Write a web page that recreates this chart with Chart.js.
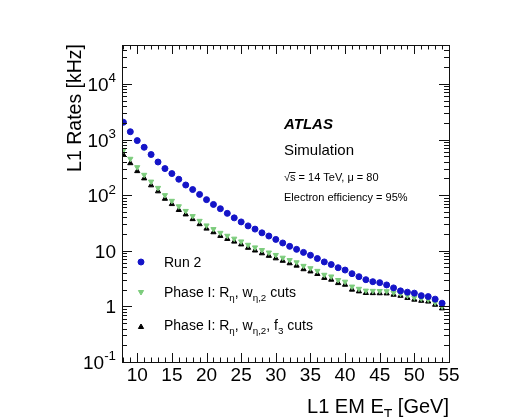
<!DOCTYPE html>
<html>
<head>
<meta charset="utf-8">
<script src="https://cdn.jsdelivr.net/npm/chart.js@4.4.1/dist/chart.umd.min.js"></script>
<style>
  html, body { margin: 0; padding: 0; background: #fff; }
  #plot { display: block; }
</style>
</head>
<body>
<canvas id="plot" width="520" height="417"></canvas>
<script>
// L1 EM ET threshold [GeV]
const etValues = [8, 9, 10, 11, 12, 13, 14, 15, 16, 17, 18, 19, 20, 21, 22, 23,
  24, 25, 26, 27, 28, 29, 30, 31, 32, 33, 34, 35, 36, 37, 38, 39, 40, 41, 42,
  43, 44, 45, 46, 47, 48, 49, 50, 51, 52, 53, 54];

// rates in kHz
const run2Rates = [2040, 1380, 955, 725, 537, 394, 300, 244, 193, 152, 126, 103,
  83, 68, 57, 47, 39, 33, 28, 24.5, 21, 18.4, 16, 13.8, 12, 10.6, 9.35, 8.3,
  7.25, 6.3, 5.65, 4.96, 4.5, 3.87, 3.42, 3.02, 2.78, 2.67, 2.43, 2.15, 1.9,
  1.8, 1.73, 1.56, 1.5, 1.35, 1.14];
const phase1Rates = [640, 450, 318, 232, 175, 135, 100, 79, 63, 52, 42, 34.5,
  28.5, 24.5, 21, 18.6, 16.5, 14.7, 12.8, 11.5, 10.3, 9.3, 8.4, 7.5, 6.8, 6.2,
  5.35, 4.85, 4.35, 3.7, 3.45, 2.98, 2.78, 2.27, 2.07, 1.92, 1.9, 1.89, 1.87,
  1.77, 1.69, 1.56, 1.45, 1.38, 1.33, 1.17, 1.0];
const phase1F3Rates = [530, 375, 270, 200, 150, 117, 86, 69, 54, 45, 37, 30,
  25, 21.5, 18.5, 16.3, 14.6, 13, 11.3, 10.1, 9, 8.1, 7.3, 6.6, 5.95, 5.4,
  4.65, 4.25, 3.82, 3.25, 3.02, 2.62, 2.45, 2.0, 1.86, 1.74, 1.73, 1.72, 1.71,
  1.62, 1.55, 1.42, 1.32, 1.26, 1.22, 1.07, 0.92];

const xTickValues = [10, 15, 20, 25, 30, 35, 40, 45, 50, 55];
const yTickValues = [0.1, 1, 10, 100, 1000, 10000];
const yTickBase = ['10', '1', '10', '10', '10', '10'];
const yTickExp = ['-1', '', '', '2', '3', '4'];

const FONT = '"Liberation Sans", Arial, Helvetica, sans-serif';

function toPoints(values) {
  return values.map((v, i) => ({ x: etValues[i], y: v }));
}

// text with sub/superscripts: parts = [[text, 'sub'|'sup'|undefined], ...]
function richWidth(ctx, parts, size, style) {
  let w = 0;
  parts.forEach((p) => {
    const s = p[1] ? size * 0.7 : size;
    ctx.font = (style || '') + ' ' + s + 'px ' + FONT;
    w += ctx.measureText(p[0]).width;
  });
  return w;
}

function drawRich(ctx, x, y, parts, size, style) {
  ctx.textAlign = 'left';
  ctx.textBaseline = 'alphabetic';
  parts.forEach((p) => {
    let s = size;
    let dy = 0;
    if (p[1] === 'sub') { s = size * 0.7; dy = size * 0.3; }
    if (p[1] === 'sup') { s = size * 0.7; dy = -size * 0.45; }
    ctx.font = (style || '') + ' ' + s + 'px ' + FONT;
    ctx.fillText(p[0], x, y + dy);
    x += ctx.measureText(p[0]).width;
  });
  return x;
}

const legendItems = [
  [['Run 2']],
  [['Phase I: R'], ['\u03b7', 'sub'], [', w'], ['\u03b7,2', 'sub'], [' cuts']],
  [['Phase I: R'], ['\u03b7', 'sub'], [', w'], ['\u03b7,2', 'sub'], [', f'], ['3', 'sub'], [' cuts']],
];

const rootFrame = {
  id: 'rootFrame',
  afterDraw(chart) {
    const ctx = chart.ctx;
    const a = chart.chartArea;
    const xs = chart.scales.x;
    const ys = chart.scales.y;
    ctx.save();
    ctx.strokeStyle = '#111';
    ctx.fillStyle = '#000';
    ctx.lineWidth = 1;
    ctx.strokeRect(a.left + 0.5, a.top + 0.5, a.right - a.left, a.bottom - a.top);

    // x ticks, bottom and top
    ctx.beginPath();
    for (let v = 8; v <= 55; v++) {
      const px = Math.round(xs.getPixelForValue(v)) + 0.5;
      const len = v % 5 === 0 ? 9 : 4.5;
      ctx.moveTo(px, a.bottom); ctx.lineTo(px, a.bottom - len);
      ctx.moveTo(px, a.top); ctx.lineTo(px, a.top + len);
    }
    // y ticks, left and right
    for (let e = -1; e <= 4; e++) {
      for (let k = 1; k <= 9; k++) {
        const v = k * Math.pow(10, e);
        if (v < 0.1 || v > 50000) continue;
        const py = Math.round(ys.getPixelForValue(v)) + 0.5;
        const len = k === 1 ? 10 : 5;
        ctx.moveTo(a.left, py); ctx.lineTo(a.left + len, py);
        ctx.moveTo(a.right, py); ctx.lineTo(a.right - len, py);
      }
    }
    ctx.stroke();

    // x tick labels
    ctx.font = '19px ' + FONT;
    ctx.textAlign = 'center';
    ctx.textBaseline = 'alphabetic';
    xTickValues.forEach((v) => {
      ctx.fillText(String(v), xs.getPixelForValue(v), a.bottom + 19);
    });

    // y tick labels with exponents
    yTickValues.forEach((v, i) => {
      const parts = [[yTickBase[i]]];
      if (yTickExp[i]) parts.push([yTickExp[i], 'sup']);
      const w = richWidth(ctx, parts, 19);
      drawRich(ctx, 116 - w, ys.getPixelForValue(v) + 7, parts, 19);
    });

    // axis titles
    const xt = [['L1 EM E'], ['T', 'sub'], [' [GeV]']];
    drawRich(ctx, a.right - richWidth(ctx, xt, 20), 413, xt, 20);
    ctx.save();
    ctx.translate(81, a.top - 1);
    ctx.rotate(-Math.PI / 2);
    ctx.font = '19.5px ' + FONT;
    ctx.textAlign = 'right';
    ctx.fillText('L1 Rates [kHz]', 0, 0);
    ctx.restore();

    // ATLAS label block
    drawRich(ctx, 284, 129, [['ATLAS']], 15, 'italic bold');
    drawRich(ctx, 284, 155, [['Simulation']], 15);
    let x = drawRich(ctx, 284, 181, [['\u221a']], 11);
    const sW = richWidth(ctx, [['s']], 11);
    ctx.beginPath();
    ctx.moveTo(x - 1, 172.5); ctx.lineTo(x + sW, 172.5);
    ctx.stroke();
    drawRich(ctx, x, 181, [['s = 14 TeV, \u03bc = 80']], 11);
    drawRich(ctx, 284, 201, [['Electron efficiency = 95%']], 11);

    // legend
    const markerY = [262, 292, 327];
    const textY = [267, 297, 330];
    chart.data.datasets.forEach((ds, i) => {
      ctx.fillStyle = ds.pointBackgroundColor;
      ctx.strokeStyle = ds.pointBorderColor;
      Chart.helpers.drawPoint(ctx, {
        pointStyle: ds.pointStyle,
        radius: ds.pointRadius,
        rotation: ds.pointRotation || 0,
        borderWidth: ds.pointBorderWidth,
      }, 141, markerY[i]);
      ctx.fillStyle = '#000';
      drawRich(ctx, 164, textY[i], legendItems[i], 14);
    });
    ctx.restore();
  },
};

const ctx = document.getElementById('plot').getContext('2d');
const rateChart = new Chart(ctx, {
  type: 'scatter',
  data: {
    datasets: [
      {
        label: 'Run 2',
        data: toPoints(run2Rates),
        pointStyle: 'circle',
        pointRadius: 3,
        pointBorderWidth: 1,
        pointBackgroundColor: '#1414c8',
        pointBorderColor: '#1414c8',
      },
      {
        label: 'Phase I: R_eta, w_eta2 cuts',
        data: toPoints(phase1Rates),
        pointStyle: 'triangle',
        pointRotation: 180,
        pointRadius: 3,
        pointBorderWidth: 1,
        pointBackgroundColor: '#7ccc7c',
        pointBorderColor: '#7ccc7c',
      },
      {
        label: 'Phase I: R_eta, w_eta2, f3 cuts',
        data: toPoints(phase1F3Rates),
        pointStyle: 'triangle',
        pointRadius: 3,
        pointBorderWidth: 1,
        pointBackgroundColor: '#000',
        pointBorderColor: '#000',
      },
    ],
  },
  options: {
    responsive: false,
    animation: false,
    layout: { padding: { left: 122, right: 71, top: 45, bottom: 55 } },
    plugins: { legend: { display: false }, tooltip: { enabled: false } },
    scales: {
      x: { type: 'linear', min: 7.8, max: 55, display: false },
      y: { type: 'logarithmic', min: 0.1, max: 50000, display: false },
    },
  },
  plugins: [rootFrame],
});
</script>
</body>
</html>
